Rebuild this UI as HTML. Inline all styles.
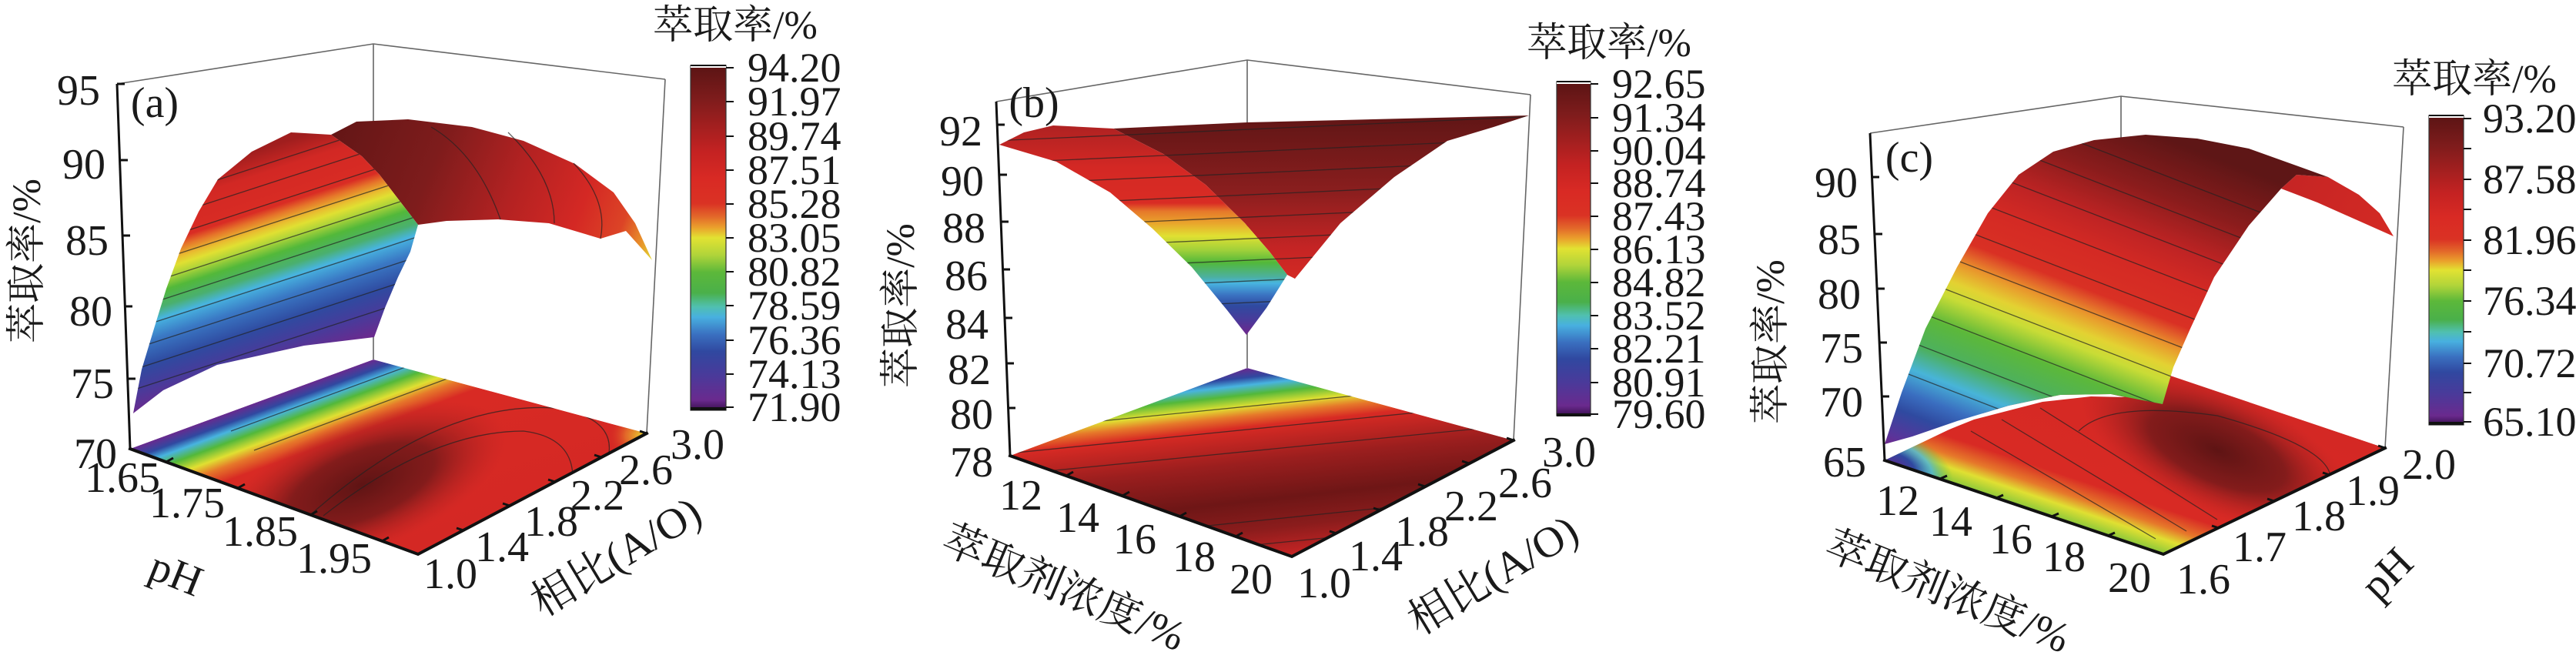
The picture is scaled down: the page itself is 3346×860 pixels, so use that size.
<!DOCTYPE html>
<html><head><meta charset="utf-8"><style>
html,body{margin:0;padding:0;background:#fff;}
svg{display:block;}
text{font-family:"Liberation Serif","Times New Roman",Times,"Noto Serif CJK SC","Noto Sans CJK SC",serif;fill:#1a1a1a;}
.t{font-size:56px;}
.cb{font-size:54px;}
.ttl{font-size:52px;}
.box{stroke:#666;stroke-width:1.6;fill:none;}
.ax{stroke:#111;stroke-width:4;fill:none;stroke-linecap:square;}
.zx{stroke:#111;stroke-width:3;fill:none;}
.tk{stroke:#111;stroke-width:3;}
.cl{stroke:#222;stroke-width:1.3;fill:none;opacity:.7;}
</style></head><body>
<svg width="3346" height="860" viewBox="0 0 3346 860" xmlns="http://www.w3.org/2000/svg">
<defs>
<linearGradient id="cmap" x1="0" y1="0" x2="0" y2="1">
<stop offset="0" stop-color="#5a1414"/><stop offset="0.1" stop-color="#7f1c1c"/>
<stop offset="0.25" stop-color="#c42222"/><stop offset="0.33" stop-color="#d92a24"/>
<stop offset="0.4" stop-color="#da3224"/><stop offset="0.44" stop-color="#e36a2a"/>
<stop offset="0.47" stop-color="#eaa02c"/><stop offset="0.5" stop-color="#e2e232"/>
<stop offset="0.55" stop-color="#b0d43a"/><stop offset="0.6" stop-color="#5cb83a"/>
<stop offset="0.66" stop-color="#4ab04a"/><stop offset="0.7" stop-color="#50c0b0"/>
<stop offset="0.73" stop-color="#48b0e0"/><stop offset="0.78" stop-color="#3a70c0"/>
<stop offset="0.83" stop-color="#3048a0"/><stop offset="0.9" stop-color="#4a3a9a"/>
<stop offset="0.97" stop-color="#6a2a8e"/><stop offset="1" stop-color="#3a1050"/>
</linearGradient>
<linearGradient id="aF" gradientUnits="userSpaceOnUse" x1="90" y1="275" x2="177" y2="542">
<stop offset="0" stop-color="#a01e1e"/><stop offset="0.11" stop-color="#d22824"/>
<stop offset="0.27" stop-color="#d92c24"/><stop offset="0.31" stop-color="#e6782a"/>
<stop offset="0.357" stop-color="#e8c030"/><stop offset="0.386" stop-color="#e0e032"/>
<stop offset="0.43" stop-color="#a8d23a"/><stop offset="0.48" stop-color="#52b83a"/>
<stop offset="0.55" stop-color="#4ab070"/><stop offset="0.6" stop-color="#48b4e0"/>
<stop offset="0.68" stop-color="#3a78c4"/><stop offset="0.79" stop-color="#2f4aa0"/>
<stop offset="0.89" stop-color="#4a3a9a"/><stop offset="0.98" stop-color="#6a2a8e"/>
</linearGradient>
<linearGradient id="aT" gradientUnits="userSpaceOnUse" x1="440" y1="160" x2="850" y2="330">
<stop offset="0" stop-color="#641616"/><stop offset="0.3" stop-color="#7e1c1c"/>
<stop offset="0.55" stop-color="#b42222"/><stop offset="0.75" stop-color="#d42824"/>
<stop offset="0.88" stop-color="#dc4426"/><stop offset="0.95" stop-color="#e8902a"/>
<stop offset="1" stop-color="#e2d830"/>
</linearGradient>
<linearGradient id="aFl" gradientUnits="userSpaceOnUse" x1="169" y1="583" x2="258" y2="825">
<stop offset="0" stop-color="#6a2a8e"/><stop offset="0.05" stop-color="#3048a0"/>
<stop offset="0.09" stop-color="#48b4e0"/><stop offset="0.14" stop-color="#52b83a"/>
<stop offset="0.2" stop-color="#e0e032"/><stop offset="0.25" stop-color="#e6782a"/>
<stop offset="0.32" stop-color="#d82a24"/><stop offset="1" stop-color="#d42824"/>
</linearGradient>
<radialGradient id="dark">
<stop offset="0" stop-color="#5e1414"/><stop offset="0.5" stop-color="#7a1a1a" stop-opacity="0.9"/>
<stop offset="1" stop-color="#b82222" stop-opacity="0"/>
</radialGradient>
<radialGradient id="hot">
<stop offset="0" stop-color="#e8d030"/><stop offset="0.5" stop-color="#e6782a" stop-opacity="0.8"/>
<stop offset="1" stop-color="#d82a24" stop-opacity="0"/>
</radialGradient>
<linearGradient id="bF" gradientUnits="userSpaceOnUse" x1="0" y1="165" x2="0" y2="432">
<stop offset="0" stop-color="#b02222"/><stop offset="0.2" stop-color="#d42824"/>
<stop offset="0.37" stop-color="#d92c24"/><stop offset="0.41" stop-color="#e6782a"/>
<stop offset="0.47" stop-color="#e9a72c"/><stop offset="0.53" stop-color="#e0e032"/>
<stop offset="0.6" stop-color="#9fd03a"/><stop offset="0.66" stop-color="#52b83a"/>
<stop offset="0.73" stop-color="#4cb0a0"/><stop offset="0.76" stop-color="#48b4e0"/>
<stop offset="0.82" stop-color="#3a70c0"/><stop offset="0.87" stop-color="#2f4aa0"/>
<stop offset="0.94" stop-color="#4a3a9a"/><stop offset="1" stop-color="#6a2a8e"/>
</linearGradient>
<linearGradient id="bB" gradientUnits="userSpaceOnUse" x1="0" y1="155" x2="0" y2="363">
<stop offset="0" stop-color="#621616"/><stop offset="0.45" stop-color="#8a1e1e"/>
<stop offset="0.8" stop-color="#c42424"/><stop offset="1" stop-color="#d42a24"/>
</linearGradient>
<linearGradient id="bFl" gradientUnits="userSpaceOnUse" x1="1620" y1="478" x2="1647" y2="723">
<stop offset="0" stop-color="#6a2a8e"/><stop offset="0.05" stop-color="#3048a0"/>
<stop offset="0.09" stop-color="#48b4e0"/><stop offset="0.14" stop-color="#52b83a"/>
<stop offset="0.2" stop-color="#e0e032"/><stop offset="0.25" stop-color="#e6782a"/>
<stop offset="0.31" stop-color="#d82a24"/><stop offset="0.5" stop-color="#9a1e1e"/>
<stop offset="0.7" stop-color="#6e1616"/><stop offset="0.85" stop-color="#8a1c1c"/>
<stop offset="1" stop-color="#c42424"/>
</linearGradient>
<linearGradient id="cF" gradientUnits="userSpaceOnUse" x1="306" y1="-790.5" x2="126" y2="-325.5">
<stop offset="0" stop-color="#5e1616"/><stop offset="0.14" stop-color="#8a1c1c"/>
<stop offset="0.26" stop-color="#c02424"/><stop offset="0.34" stop-color="#d42a24"/>
<stop offset="0.44" stop-color="#d93024"/><stop offset="0.47" stop-color="#e2622a"/>
<stop offset="0.5" stop-color="#e9962c"/><stop offset="0.55" stop-color="#e3d232"/>
<stop offset="0.59" stop-color="#c8dc36"/><stop offset="0.66" stop-color="#5cb83a"/>
<stop offset="0.74" stop-color="#4cb060"/><stop offset="0.8" stop-color="#48b4d8"/>
<stop offset="0.86" stop-color="#3a6ec0"/><stop offset="0.91" stop-color="#2f4aa0"/>
<stop offset="0.98" stop-color="#5a349a"/><stop offset="1" stop-color="#6a2a8e"/>
</linearGradient>
<linearGradient id="cB" gradientUnits="userSpaceOnUse" x1="2960" y1="220" x2="3110" y2="305">
<stop offset="0" stop-color="#c42424"/><stop offset="1" stop-color="#d42a24"/>
</linearGradient>
<linearGradient id="cFl" gradientUnits="userSpaceOnUse" x1="2448" y1="598" x2="2519" y2="386">
<stop offset="0" stop-color="#8cc83a"/><stop offset="0.08" stop-color="#e0e032"/>
<stop offset="0.15" stop-color="#e6782a"/><stop offset="0.25" stop-color="#d82a24"/>
<stop offset="1" stop-color="#d42824"/>
</linearGradient>
<radialGradient id="cold">
<stop offset="0" stop-color="#5a2a90"/><stop offset="0.35" stop-color="#3048a0"/>
<stop offset="0.65" stop-color="#48b4e0" stop-opacity="0.8"/><stop offset="1" stop-color="#52b83a" stop-opacity="0"/>
</radialGradient>
<clipPath id="flA"><polygon points="169,583 485,467 840,563 543,720"/></clipPath>
<clipPath id="flB"><polygon points="1312,592 1620,478 1966,572 1678,723"/></clipPath>
<clipPath id="flC"><polygon points="2448,598 2736,460 3098,582 2810,720"/></clipPath>
<clipPath id="clA"><path d="M173,537 L184,480 L200,427 L216,375 L235,323 L258,275 L283,233 L327,197 L378,172 L430,175 L470,203 L493,227 L513,253 L543,292 L533,327 L517,360 L500,400 L486,438 L395,449 L282,474 L212,507 Z"/></clipPath>
<clipPath id="clB"><path d="M1298,188 L1330,172 L1368,163 L1620,159 L1986,150 L1880,183 L1811,230 L1741,290 L1682,362 L1672,357 L1645,400 L1619,435 L1594,403 L1548,347 L1497,297 L1442,250 L1372,210 Z"/></clipPath>
<clipPath id="clC"><path d="M2448,577 L2470,510 L2501,427 L2542,347 L2582,277 L2622,227 L2667,197 L2720,182 L2787,175 L2854,180 L2921,193 L2988,217 L3024,230 L2963,245 L2921,293 L2876,360 L2845,427 L2823,477 L2809,525 L2742,512 L2676,513 L2609,527 L2542,547 L2484,567 Z"/></clipPath>
</defs>

<!-- ================= PANEL A ================= -->
<polyline class="box" points="152,109 485,57 864,103"/>
<line class="box" x1="485" y1="57" x2="485" y2="467"/>
<line class="box" x1="864" y1="103" x2="840" y2="563"/>
<g clip-path="url(#flA)">
<polygon points="169,583 485,467 840,563 543,720" fill="url(#aFl)"/>
<ellipse cx="470" cy="630" rx="200" ry="85" transform="rotate(-22 470 630)" fill="url(#dark)"/>
<ellipse cx="835" cy="566" rx="45" ry="35" fill="url(#hot)"/>
<path class="cl" d="M300,560 L600,450" opacity=".4"/><path class="cl" d="M330,585 L640,470" opacity=".4"/>
<path class="cl" d="M420,670 Q560,560 680,560 Q760,570 740,650" opacity=".45"/>
<path class="cl" d="M380,690 Q560,520 720,530 Q820,545 780,620" opacity=".4"/>
</g>
<path d="M430,175 L463,158 L530,155 L613,165 L680,183 L747,213 L797,250 L825,290 L847,338 L813,300 L780,310 L713,290 L647,285 L580,287 L543,292 L513,253 L493,227 L470,203 Z" fill="url(#aT)"/>
<path d="M173,537 L184,480 L200,427 L216,375 L235,323 L258,275 L283,233 L327,197 L378,172 L430,175 L470,203 L493,227 L513,253 L543,292 L533,327 L517,360 L500,400 L486,438 L395,449 L282,474 L212,507 Z" fill="url(#aF)"/>
<g clip-path="url(#clA)">
<line class="cl" x1="150" y1="277" x2="600" y2="130"/>
<line class="cl" x1="150" y1="303" x2="600" y2="157"/>
<line class="cl" x1="150" y1="330" x2="600" y2="183"/>
<line class="cl" x1="150" y1="356" x2="600" y2="210"/>
<line class="cl" x1="150" y1="382" x2="600" y2="236"/>
<line class="cl" x1="150" y1="409" x2="600" y2="262"/>
<line class="cl" x1="150" y1="435" x2="600" y2="289"/>
<line class="cl" x1="150" y1="461" x2="600" y2="315"/>
<line class="cl" x1="150" y1="488" x2="600" y2="341"/>
<line class="cl" x1="150" y1="514" x2="600" y2="368"/>
</g>
<path class="cl" d="M560,165 Q620,200 650,285" /><path class="cl" d="M660,172 Q720,230 720,290"/><path class="cl" d="M745,212 Q790,260 780,310"/>
<line class="zx" x1="152" y1="109" x2="169" y2="583"/>
<g class="tk"><line x1="152" y1="109" x2="162" y2="109"/><line x1="156" y1="208" x2="166" y2="208"/><line x1="159" y1="306" x2="169" y2="306"/><line x1="162" y1="398" x2="172" y2="398"/><line x1="166" y1="492" x2="176" y2="492"/></g>
<polyline class="ax" points="169,583 543,720 840,563"/>
<g class="tk">
<line x1="216" y1="600" x2="225" y2="595"/><line x1="309" y1="634" x2="318" y2="629"/><line x1="403" y1="669" x2="412" y2="664"/><line x1="496" y1="703" x2="505" y2="698"/>
<line x1="602" y1="689" x2="593" y2="686"/><line x1="662" y1="657" x2="653" y2="654"/><line x1="721" y1="626" x2="712" y2="623"/><line x1="781" y1="594" x2="772" y2="591"/><line x1="840" y1="563" x2="831" y2="560"/>
</g>
<g class="t" text-anchor="end">
<text x="130" y="136">95</text><text x="137" y="232">90</text><text x="141" y="331">85</text><text x="146" y="423">80</text><text x="148" y="517">75</text><text x="152" y="608">70</text>
</g>
<text class="t" x="201" y="152" text-anchor="middle">(a)</text>
<g class="t" text-anchor="middle">
<text x="159" y="639">1.65</text><text x="243" y="672">1.75</text><text x="338" y="709">1.85</text><text x="434" y="744">1.95</text>
<text x="585" y="764">1.0</text><text x="652" y="729">1.4</text><text x="716" y="696">1.8</text><text x="776" y="662">2.2</text><text x="839" y="629">2.6</text><text x="906" y="596">3.0</text>
</g>
<text class="t" x="229" y="764" text-anchor="middle" transform="rotate(22 229 745)">pH</text>
<text class="t" x="800" y="742" text-anchor="middle" transform="rotate(-31 800 723)">相比(A/O)</text>
<text class="ttl" x="35" y="356" text-anchor="middle" transform="rotate(-90 35 339)">萃取率/%</text>
<text class="ttl" x="955" y="50" text-anchor="middle">萃取率/%</text>
<rect x="897" y="85" width="46" height="448" fill="url(#cmap)" stroke="#333" stroke-width="1.2"/>
<rect x="897" y="85" width="46" height="3" fill="#fff"/>
<line x1="897" y1="85" x2="943" y2="85" stroke="#111" stroke-width="2"/>
<rect x="897" y="529" width="46" height="4" fill="#111"/>
<g class="tk" style="stroke-width:2">
<line x1="943" y1="88" x2="953" y2="88"/><line x1="943" y1="132" x2="953" y2="132"/><line x1="943" y1="177" x2="953" y2="177"/><line x1="943" y1="221" x2="953" y2="221"/><line x1="943" y1="265" x2="953" y2="265"/><line x1="943" y1="309" x2="953" y2="309"/><line x1="943" y1="353" x2="953" y2="353"/><line x1="943" y1="397" x2="953" y2="397"/><line x1="943" y1="442" x2="953" y2="442"/><line x1="943" y1="486" x2="953" y2="486"/><line x1="943" y1="529" x2="953" y2="529"/>
</g>
<g class="cb">
<text x="971" y="106">94.20</text><text x="971" y="150">91.97</text><text x="971" y="195">89.74</text><text x="971" y="239">87.51</text><text x="971" y="283">85.28</text><text x="971" y="327">83.05</text><text x="971" y="371">80.82</text><text x="971" y="415">78.59</text><text x="971" y="460">76.36</text><text x="971" y="504">74.13</text><text x="971" y="547">71.90</text>
</g>

<!-- ================= PANEL B ================= -->
<polyline class="box" points="1294,132 1620,78 1988,123"/>
<line class="box" x1="1620" y1="78" x2="1620" y2="478"/>
<line class="box" x1="1988" y1="123" x2="1966" y2="572"/>
<g clip-path="url(#flB)">
<polygon points="1312,592 1620,478 1966,572 1678,723" fill="url(#bFl)"/>
<path class="cl" d="M1300,560 L1950,495" opacity=".45"/>
<path class="cl" d="M1300,590 L1950,525" opacity=".4"/>
<path class="cl" d="M1330,615 L1990,550" opacity=".35"/>
<path class="cl" d="M1500,690 L1990,640" opacity=".35"/>
<path class="cl" d="M1560,715 L1990,672" opacity=".35"/>
</g>
<path d="M1446,167 L1620,159 L1986,150 L1940,165 L1880,183 L1811,230 L1741,290 L1682,362 L1672,357 L1649,327 L1617,290 L1566,240 L1511,200 Z" fill="url(#bB)"/>
<path d="M1298,188 L1330,172 L1368,163 L1446,167 L1511,200 L1566,240 L1617,290 L1649,327 L1672,357 L1645,400 L1619,435 L1594,403 L1548,347 L1497,297 L1442,250 L1372,210 Z" fill="url(#bF)"/>
<g clip-path="url(#clB)">
<line class="cl" x1="1290" y1="183" x2="2000" y2="151"/>
<line class="cl" x1="1290" y1="212" x2="2000" y2="180"/>
<line class="cl" x1="1290" y1="240" x2="2000" y2="208"/>
<line class="cl" x1="1290" y1="268" x2="2000" y2="236"/>
<line class="cl" x1="1290" y1="297" x2="2000" y2="265"/>
<line class="cl" x1="1290" y1="325" x2="2000" y2="293"/>
<line class="cl" x1="1290" y1="353" x2="2000" y2="321"/>
<line class="cl" x1="1290" y1="380" x2="2000" y2="348"/>
<line class="cl" x1="1290" y1="408" x2="2000" y2="376"/>
</g>
<line class="zx" x1="1294" y1="132" x2="1312" y2="592"/>
<g class="tk"><line x1="1295" y1="162" x2="1305" y2="162"/><line x1="1298" y1="227" x2="1308" y2="227"/><line x1="1300" y1="288" x2="1310" y2="288"/><line x1="1302" y1="350" x2="1312" y2="350"/><line x1="1305" y1="413" x2="1315" y2="413"/><line x1="1307" y1="472" x2="1317" y2="472"/><line x1="1309" y1="530" x2="1319" y2="530"/></g>
<polyline class="ax" points="1312,592 1678,723 1966,572"/>
<g class="tk">
<line x1="1385" y1="618" x2="1394" y2="613"/><line x1="1458" y1="644" x2="1467" y2="639"/><line x1="1532" y1="671" x2="1541" y2="666"/><line x1="1605" y1="697" x2="1614" y2="692"/>
<line x1="1736" y1="693" x2="1727" y2="690"/><line x1="1793" y1="663" x2="1784" y2="660"/><line x1="1851" y1="632" x2="1842" y2="629"/><line x1="1908" y1="602" x2="1899" y2="599"/><line x1="1966" y1="572" x2="1957" y2="569"/>
</g>
<g class="t" text-anchor="end">
<text x="1276" y="189">92</text><text x="1278" y="254">90</text><text x="1280" y="315">88</text><text x="1283" y="377">86</text><text x="1284" y="440">84</text><text x="1287" y="499">82</text><text x="1290" y="557">80</text><text x="1290" y="619">78</text>
</g>
<text class="t" x="1343" y="152" text-anchor="middle">(b)</text>
<g class="t" text-anchor="middle">
<text x="1326" y="662">12</text><text x="1400" y="691">14</text><text x="1474" y="719">16</text><text x="1551" y="742">18</text><text x="1625" y="771">20</text>
<text x="1720" y="776">1.0</text><text x="1787" y="741">1.4</text><text x="1847" y="709">1.8</text><text x="1911" y="676">2.2</text><text x="1981" y="646">2.6</text><text x="2038" y="606">3.0</text>
</g>
<text class="t" x="1382" y="782" text-anchor="middle" transform="rotate(23 1382 763)" style="font-size:55px">萃取剂浓度/%</text>
<text class="t" x="1939" y="766" text-anchor="middle" transform="rotate(-31 1939 747)">相比(A/O)</text>
<text class="ttl" x="1170" y="414" text-anchor="middle" transform="rotate(-90 1170 397)">萃取率/%</text>
<text class="ttl" x="2090" y="73" text-anchor="middle">萃取率/%</text>
<rect x="2022" y="106" width="44" height="434" fill="url(#cmap)" stroke="#333" stroke-width="1.2"/>
<rect x="2022" y="106" width="44" height="3" fill="#fff"/>
<line x1="2022" y1="106" x2="2066" y2="106" stroke="#111" stroke-width="2"/>
<rect x="2022" y="537" width="44" height="4" fill="#111"/>
<g class="tk" style="stroke-width:2">
<line x1="2066" y1="109" x2="2076" y2="109"/><line x1="2066" y1="153" x2="2076" y2="153"/><line x1="2066" y1="196" x2="2076" y2="196"/><line x1="2066" y1="238" x2="2076" y2="238"/><line x1="2066" y1="281" x2="2076" y2="281"/><line x1="2066" y1="324" x2="2076" y2="324"/><line x1="2066" y1="367" x2="2076" y2="367"/><line x1="2066" y1="410" x2="2076" y2="410"/><line x1="2066" y1="453" x2="2076" y2="453"/><line x1="2066" y1="497" x2="2076" y2="497"/><line x1="2066" y1="538" x2="2076" y2="538"/>
</g>
<g class="cb">
<text x="2094" y="127">92.65</text><text x="2094" y="171">91.34</text><text x="2094" y="214">90.04</text><text x="2094" y="256">88.74</text><text x="2094" y="299">87.43</text><text x="2094" y="342">86.13</text><text x="2094" y="385">84.82</text><text x="2094" y="428">83.52</text><text x="2094" y="471">82.21</text><text x="2094" y="515">80.91</text><text x="2094" y="556">79.60</text>
</g>

<!-- ================= PANEL C ================= -->
<polyline class="box" points="2429,173 2755,125 3122,165"/>
<line class="box" x1="2755" y1="125" x2="2755" y2="465"/>
<line class="box" x1="3122" y1="165" x2="3098" y2="582"/>
<g clip-path="url(#flC)">
<polygon points="2448,598 2736,460 3098,582 2810,720" fill="url(#cFl)"/>
<ellipse cx="2880" cy="585" rx="190" ry="80" transform="rotate(24 2880 585)" fill="url(#dark)"/>
<ellipse cx="2460" cy="605" rx="80" ry="45" transform="rotate(20 2460 605)" fill="url(#cold)"/>
<path class="cl" d="M2700,560 Q2740,520 2880,540 Q3060,590 3020,640" opacity=".5"/>
<path class="cl" d="M2560,560 L2800,700" opacity=".4"/><path class="cl" d="M2600,545 L2840,690" opacity=".4"/><path class="cl" d="M2650,530 L2880,675" opacity=".4"/>
</g>
<path d="M2448,598 L2497,572 L2564,545 L2653,522 L2716,515 L2760,516 L2742,512 L2676,513 L2609,527 L2542,547 L2484,567 L2448,577 Z" fill="#fff"/>
<path d="M2963,245 L2983,227 L3024,230 L3064,253 L3091,277 L3109,307 L3055,283 L3010,263 Z" fill="url(#cB)"/>
<path d="M2448,577 L2470,510 L2501,427 L2542,347 L2582,277 L2622,227 L2667,197 L2720,182 L2787,175 L2854,180 L2921,193 L2988,217 L3024,230 L2983,227 L2963,245 L2921,293 L2876,360 L2845,427 L2823,477 L2809,525 L2742,512 L2676,513 L2609,527 L2542,547 L2484,567 Z" fill="url(#cF)"/>
<g clip-path="url(#clC)">
<line class="cl" x1="2440" y1="84" x2="3050" y2="320"/>
<line class="cl" x1="2440" y1="127" x2="3050" y2="363"/>
<line class="cl" x1="2440" y1="170" x2="3050" y2="406"/>
<line class="cl" x1="2440" y1="213" x2="3050" y2="449"/>
<line class="cl" x1="2440" y1="256" x2="3050" y2="492"/>
<line class="cl" x1="2440" y1="299" x2="3050" y2="535"/>
<line class="cl" x1="2440" y1="342" x2="3050" y2="578"/>
<line class="cl" x1="2440" y1="385" x2="3050" y2="621"/>
<line class="cl" x1="2440" y1="428" x2="3050" y2="664"/>
<line class="cl" x1="2440" y1="471" x2="3050" y2="707"/>
</g>
<line class="zx" x1="2429" y1="173" x2="2448" y2="598"/>
<g class="tk"><line x1="2431" y1="230" x2="2441" y2="230"/><line x1="2435" y1="304" x2="2445" y2="304"/><line x1="2438" y1="375" x2="2448" y2="375"/><line x1="2441" y1="445" x2="2451" y2="445"/><line x1="2444" y1="515" x2="2454" y2="515"/></g>
<polyline class="ax" points="2448,598 2810,720 3098,582"/>
<g class="tk">
<line x1="2520" y1="622" x2="2529" y2="618"/><line x1="2593" y1="647" x2="2602" y2="643"/><line x1="2665" y1="671" x2="2674" y2="667"/><line x1="2738" y1="696" x2="2747" y2="692"/>
<line x1="2882" y1="686" x2="2873" y2="683"/><line x1="2954" y1="651" x2="2945" y2="648"/><line x1="3026" y1="617" x2="3017" y2="614"/><line x1="3098" y1="582" x2="3089" y2="579"/>
</g>
<g class="t" text-anchor="end">
<text x="2413" y="256">90</text><text x="2417" y="330">85</text><text x="2417" y="401">80</text><text x="2420" y="471">75</text><text x="2420" y="541">70</text><text x="2424" y="619">65</text>
</g>
<text class="t" x="2480" y="223" text-anchor="middle">(c)</text>
<g class="t" text-anchor="middle">
<text x="2465" y="669">12</text><text x="2534" y="696">14</text><text x="2612" y="719">16</text><text x="2681" y="742">18</text><text x="2766" y="769">20</text>
<text x="2862" y="771">1.6</text><text x="2935" y="729">1.7</text><text x="3012" y="689">1.8</text><text x="3082" y="656">1.9</text><text x="3155" y="622">2.0</text>
</g>
<text class="t" x="2530" y="787" text-anchor="middle" transform="rotate(22 2530 768)" style="font-size:55px">萃取剂浓度/%</text>
<text class="t" x="3100" y="764" text-anchor="middle" transform="rotate(-45 3100 745)">pH</text>
<text class="ttl" x="2300" y="461" text-anchor="middle" transform="rotate(-90 2300 444)">萃取率/%</text>
<text class="ttl" x="3214" y="120" text-anchor="middle">萃取率/%</text>
<rect x="3155" y="150" width="45" height="402" fill="url(#cmap)" stroke="#333" stroke-width="1.2"/>
<rect x="3155" y="150" width="45" height="3" fill="#fff"/>
<line x1="3155" y1="150" x2="3200" y2="150" stroke="#111" stroke-width="2"/>
<rect x="3155" y="548" width="45" height="4" fill="#111"/>
<g class="tk" style="stroke-width:2">
<line x1="3200" y1="154" x2="3210" y2="154"/><line x1="3200" y1="193" x2="3210" y2="193"/><line x1="3200" y1="233" x2="3210" y2="233"/><line x1="3200" y1="272" x2="3210" y2="272"/><line x1="3200" y1="312" x2="3210" y2="312"/><line x1="3200" y1="351" x2="3210" y2="351"/><line x1="3200" y1="391" x2="3210" y2="391"/><line x1="3200" y1="431" x2="3210" y2="431"/><line x1="3200" y1="472" x2="3210" y2="472"/><line x1="3200" y1="510" x2="3210" y2="510"/><line x1="3200" y1="548" x2="3210" y2="548"/>
</g>
<g class="cb">
<text x="3225" y="172">93.20</text><text x="3225" y="251">87.58</text><text x="3225" y="330">81.96</text><text x="3225" y="409">76.34</text><text x="3225" y="490">70.72</text><text x="3225" y="566">65.10</text>
</g>
</svg>
</body></html>
